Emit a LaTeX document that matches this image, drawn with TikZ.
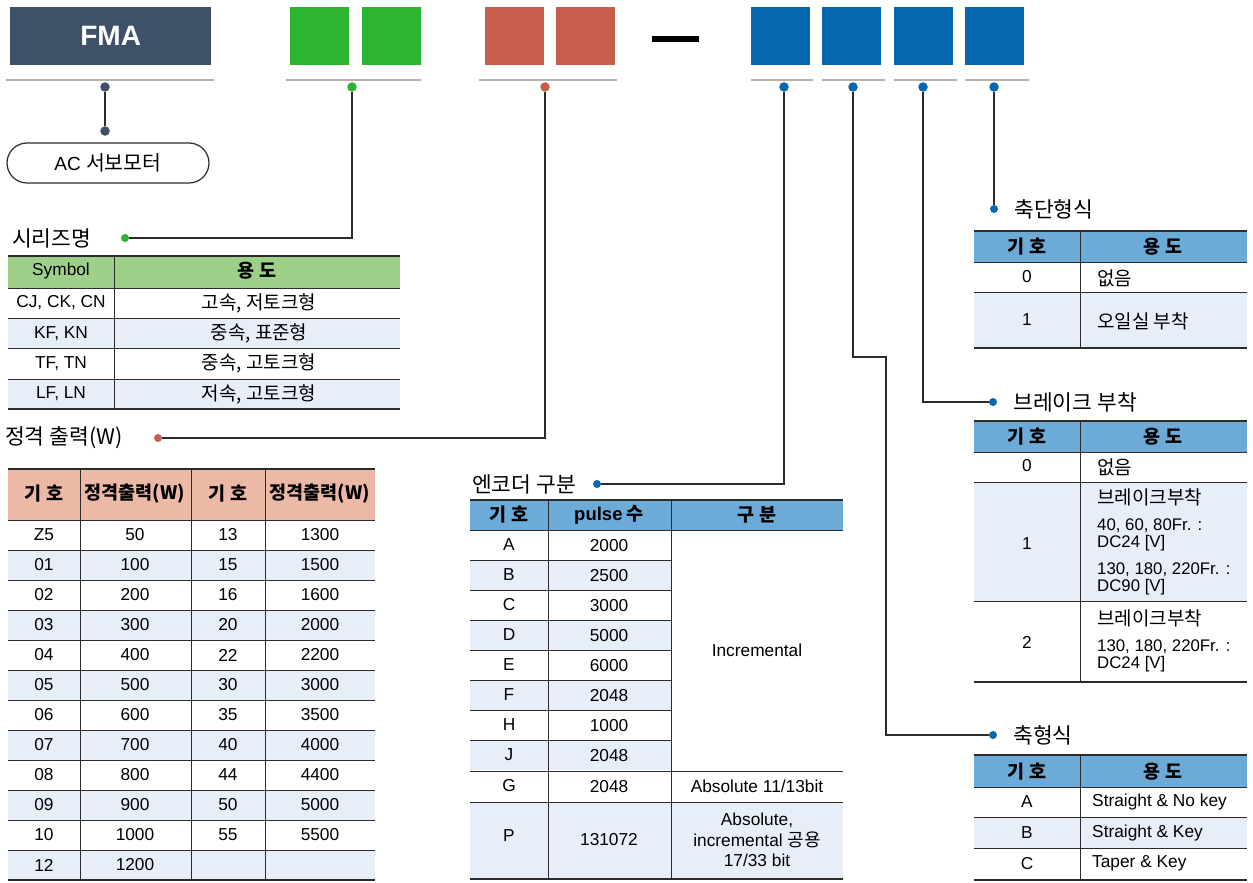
\documentclass[tikz,border=0pt]{standalone}
\usepackage{fontspec}
\setmainfont{Liberation Sans}
\newfontfamily\kr{Noto Sans CJK KR}
\usetikzlibrary{positioning}
\definecolor{Slate}{HTML}{3F5069}
\definecolor{Leaf}{HTML}{2DB432}
\definecolor{Brick}{HTML}{C65E4B}
\definecolor{Ocean}{HTML}{0768AF}
\definecolor{Sand}{HTML}{BAB2A8}
\definecolor{LeafHead}{HTML}{9ED08A}
\definecolor{BrickHead}{HTML}{EBB9A6}
\definecolor{OceanHead}{HTML}{6CAAD8}
\definecolor{RowTint}{HTML}{E7EEF7}
\definecolor{Ink}{HTML}{2B2B2B}

\begin{document}
\begin{tikzpicture}[x=1pt,y=-1pt,
  code/.style={minimum width=59pt,minimum height=58pt,inner sep=0pt,anchor=north west},
  bar/.style={draw=Sand,line width=2.5pt},
  pin/.style={circle,fill=#1,inner sep=0pt,minimum size=9.5pt},
  tip/.style={circle,fill=#1,inner sep=0pt,minimum size=8pt},
  wire/.style={draw=Ink,line width=1.3pt},
  title/.style={anchor=west,inner sep=0pt,font=\kr\fontsize{21.5}{23}\selectfont},
  cell/.style={inner sep=0pt,font=\fontsize{17.3}{19}\selectfont},
  kcell/.style={inner sep=0pt,font=\kr\fontsize{19}{21}\selectfont},
  head/.style={inner sep=0pt,font=\kr\bfseries\fontsize{18.5}{20}\selectfont},
  note/.style={inner sep=0pt,anchor=west,align=left,font=\fontsize{16.8}{17.5}\selectfont},
  rule/.style={draw=Ink,line width=1pt},
  frame/.style={draw=Ink,line width=1.8pt}]
\useasboundingbox (0,0) rectangle (1253,883);
% code boxes
\node[code,fill=Slate,minimum width=201pt,text=white,font=\bfseries\fontsize{28}{30}\selectfont](fma) at (10,7){FMA};
\node[code,fill=Leaf](s1) at (290,7){};
\node[code,fill=Leaf](s2) at (362,7){};
\node[code,fill=Brick](w1) at (485,7){};
\node[code,fill=Brick](w2) at (556,7){};
\fill (652,36.5) rectangle (699,42);
\node[code,fill=Ocean](e1) at (751,7){};
\node[code,fill=Ocean](e2) at (822,7){};
\node[code,fill=Ocean](e3) at (894,7){};
\node[code,fill=Ocean](e4) at (965,7){};
\draw[bar](6,80)--(214,80);
\draw[bar](286,80)--(421,80);
\draw[bar](479,80)--(617,80);
\draw[bar](751,80)--(813,80);
\draw[bar](822,80)--(885,80);
\draw[bar](894,80)--(957,80);
\draw[bar](965,80)--(1029,80);
% pins and leads
\node[pin=Slate](pm) at (105,87){};
\node[pin=Leaf](ps) at (352,87){};
\node[pin=Brick](pw) at (545,87){};
\node[pin=Ocean](pe) at (784,87){};
\node[pin=Ocean](pa) at (853,87){};
\node[pin=Ocean](pb) at (923,87){};
\node[pin=Ocean](pc) at (994,87){};
\node[pin=Slate](tm) at (105,131){};
\node[tip=Leaf](ts) at (125,238){};
\node[tip=Brick](tw) at (158,438){};
\node[tip=Ocean](te) at (597,484){};
\node[tip=Ocean](tc) at (994,209){};
\node[tip=Ocean](tb) at (993,402){};
\node[tip=Ocean](ta) at (993,735){};
\coordinate (bend) at (886,357);
\draw[wire](pm)--(tm);
\draw[wire](ps)|-(ts);
\draw[wire](pw)|-(tw);
\draw[wire](pe)|-(te);
\draw[wire](pc)--(tc);
\draw[wire](pb)|-(tb);
\draw[wire](pa)|-(bend)|-(ta);
\node[draw=Ink,line width=1.2pt,rounded corners=20pt,minimum width=202pt,minimum height=40pt,
  font=\fontsize{19}{21}\selectfont](motor) at (108,163){AC {\kr\fontsize{20.5}{22}\selectfont 서보모터}};
% titles
\node[title](lseries) at (12,238){시리즈명};
\node[title](lpower) at (5,438){정격 출력(W)};
\node[title](lenc) at (472,484){엔코더 구분};
\node[title,right=16pt of tc](lend){축단형식};
\node[title,right=16pt of tb](lbrake){브레이크 부착};
\node[title,right=16pt of ta](lshaft){축형식};
% series table
\fill[LeafHead](8,256) rectangle (400,288);
\fill[RowTint](8,318) rectangle (400,348);
\fill[RowTint](8,379) rectangle (400,409);
\foreach \y in {288,318,348,379} \draw[rule](8,\y)--(400,\y);
\draw[frame](8,256)--(400,256);
\draw[frame](8,409)--(400,409);
\draw[rule](114,256)--(114,409);
\node[cell](sh1) at (61,271){Symbol};
\node[head](sh2) at (257,271){용 도};
\foreach \sym/\use [count=\i] in {{CJ, CK, CN}/{고속, 저토크형},{KF, KN}/{중속, 표준형},{TF, TN}/{중속, 고토크형},{LF, LN}/{저속, 고토크형}}{
  \node[cell](s\i-a) at (61,{303+30.3*(\i-1)}){\sym};
  \node[kcell](s\i-b) at (259,{303+30.3*(\i-1)}){\use};}
% rated output table
\fill[BrickHead](8,469) rectangle (375,520);
\foreach \i in {2,4,...,12} \fill[RowTint](8,{490+30*\i}) rectangle (375,{520+30*\i});
\foreach \i in {0,...,11} \draw[rule](8,{520+30*\i})--(375,{520+30*\i});
\draw[frame](8,469)--(375,469);
\draw[frame](8,880)--(375,880);
\foreach \x in {80,191,265} \draw[rule](\x,469)--(\x,880);
\node[head](rh1) at (44,494){기 호};
\node[head](rh2) at (135,494){정격출력(W)};
\node[head](rh3) at (228,494){기 호};
\node[head](rh4) at (320,494){정격출력(W)};
\foreach \sa/\wa/\sb/\wb [count=\i] in {Z5/50/13/1300,01/100/15/1500,02/200/16/1600,03/300/20/2000,
    04/400/22/2200,05/500/30/3000,06/600/35/3500,07/700/40/4000,08/800/44/4400,09/900/50/5000,
    10/1000/55/5500,12/1200//}{
  \node[cell](r\i-a) at (44,{535+30*(\i-1)}){\sa};
  \node[cell](r\i-b) at (135,{535+30*(\i-1)}){\wa};
  \node[cell](r\i-c) at (228,{535+30*(\i-1)}){\sb};
  \node[cell](r\i-d) at (320,{535+30*(\i-1)}){\wb};}
% encoder table
\fill[OceanHead](470,500) rectangle (843,530);
\foreach \i in {2,4,6,8} \fill[RowTint](470,{500+30*\i}) rectangle (671,{530+30*\i});
\fill[RowTint](470,802) rectangle (843,879);
\foreach \i in {1,...,7} \draw[rule](470,{530+30*\i})--(671,{530+30*\i});
\foreach \y in {530,771,802} \draw[rule](470,\y)--(843,\y);
\draw[frame](470,500)--(843,500);
\draw[frame](470,879)--(843,879);
\foreach \x in {548,671} \draw[rule](\x,500)--(\x,879);
\node[head](eh1) at (509,515){기 호};
\node[head](eh2) at (609,515){{\fontspec{Liberation Sans}pulse} 수};
\node[head](eh3) at (757,515){구 분};
\foreach \k/\n [count=\i] in {A/2000,B/2500,C/3000,D/5000,E/6000,F/2048,H/1000,J/2048}{
  \node[cell](n\i-a) at (509,{545+30*(\i-1)}){\k};
  \node[cell](n\i-b) at (609,{546+30*(\i-1)}){\n};}
\node[cell](inc) at (757,650){Incremental};
\node[cell](g-a) at (509,786){G};
\node[cell](g-b) at (609,787){2048};
\node[cell](g-c) at (757,786){Absolute 11/13bit};
\node[cell](p-a) at (509,836){P};
\node[cell](p-b) at (609,840){131072};
\node[cell,align=center,font=\fontsize{17.3}{20.5}\selectfont](p-c) at (757,840){Absolute,\\incremental {\kr\fontsize{18}{20}\selectfont 공용}\\17/33 bit};
% shaft end table
\fill[OceanHead](974,231) rectangle (1247,262);
\fill[RowTint](974,292) rectangle (1247,348);
\foreach \y in {262,292} \draw[rule](974,\y)--(1247,\y);
\draw[frame](974,231)--(1247,231);
\draw[frame](974,348)--(1247,348);
\draw[rule](1080,231)--(1080,348);
\node[head](ch1) at (1027,247){기 호};
\node[head](ch2) at (1163,247){용 도};
\node[cell](c1-a) at (1027,277){0};
\node[kcell,anchor=west](c1-b) at (1097,278){없음};
\node[cell](c2-a) at (1027,320){1};
\node[kcell,anchor=west](c2-b) at (1097,321){오일실 부착};
% brake table
\fill[OceanHead](974,421) rectangle (1247,452);
\fill[RowTint](974,482) rectangle (1247,601);
\foreach \y in {452,482,601} \draw[rule](974,\y)--(1247,\y);
\draw[frame](974,421)--(1247,421);
\draw[frame](974,682)--(1247,682);
\draw[rule](1080,421)--(1080,682);
\node[head](bh1) at (1027,437){기 호};
\node[head](bh2) at (1163,437){용 도};
\node[cell](b1-a) at (1027,466){0};
\node[kcell,anchor=west](b1-b) at (1097,467){없음};
\node[cell](b2-a) at (1027,544){1};
\node[note](b2-b) at (1097,542){{\kr\fontsize{19}{17}\selectfont 브레이크부착}\\[8pt]40, 60, 80Fr. :\\DC24 [V]\\[9pt]130, 180, 220Fr. :\\DC90 [V]};
\node[cell](b3-a) at (1027,642){2};
\node[note](b3-b) at (1097,641){{\kr\fontsize{19}{17}\selectfont 브레이크부착}\\[8pt]130, 180, 220Fr. :\\DC24 [V]};
% shaft table
\fill[OceanHead](974,755) rectangle (1247,787);
\fill[RowTint](974,817) rectangle (1247,848);
\foreach \y in {787,817,848} \draw[rule](974,\y)--(1247,\y);
\draw[frame](974,755)--(1247,755);
\draw[frame](974,880)--(1247,880);
\draw[rule](1080,755)--(1080,880);
\node[head](ah1) at (1027,772){기 호};
\node[head](ah2) at (1163,772){용 도};
\foreach \k/\u [count=\i] in {A/Straight \& No key,B/Straight \& Key,C/Taper \& Key}{
  \node[cell](a\i-a) at (1027,{802+30.7*(\i-1)}){\k};
  \node[cell,anchor=west](a\i-b) at (1092,{802+30.7*(\i-1)}){\u};}
\end{tikzpicture}
\end{document}
